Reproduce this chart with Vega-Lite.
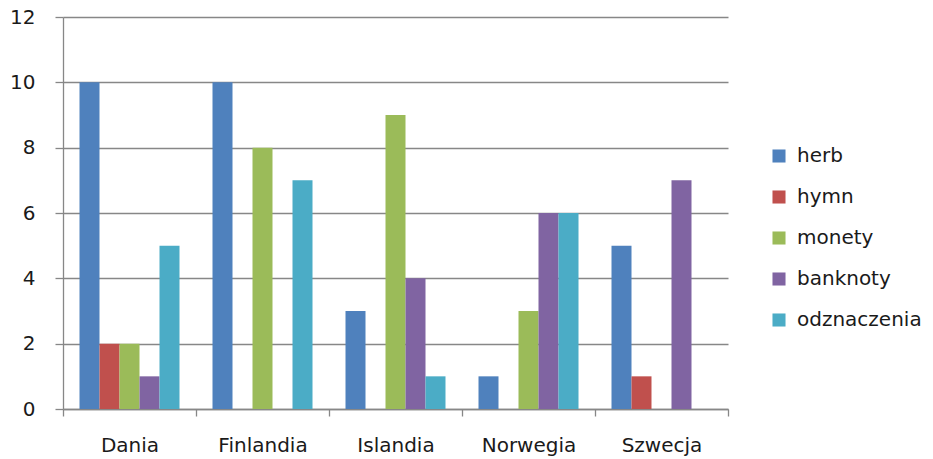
{
  "$schema": "https://vega.github.io/schema/vega-lite/v6.json",
  "width": 665,
  "height": 392,
  "autosize": "none",
  "padding": {"left": 63, "top": 17, "right": 205, "bottom": 50},
  "background": "white",
  "data": {"values": [
    {"kraj": "Dania", "kategoria": "herb", "wartosc": 10},
    {"kraj": "Dania", "kategoria": "hymn", "wartosc": 2},
    {"kraj": "Dania", "kategoria": "monety", "wartosc": 2},
    {"kraj": "Dania", "kategoria": "banknoty", "wartosc": 1},
    {"kraj": "Dania", "kategoria": "odznaczenia", "wartosc": 5},
    {"kraj": "Finlandia", "kategoria": "herb", "wartosc": 10},
    {"kraj": "Finlandia", "kategoria": "hymn", "wartosc": 0},
    {"kraj": "Finlandia", "kategoria": "monety", "wartosc": 8},
    {"kraj": "Finlandia", "kategoria": "banknoty", "wartosc": 0},
    {"kraj": "Finlandia", "kategoria": "odznaczenia", "wartosc": 7},
    {"kraj": "Islandia", "kategoria": "herb", "wartosc": 3},
    {"kraj": "Islandia", "kategoria": "hymn", "wartosc": 0},
    {"kraj": "Islandia", "kategoria": "monety", "wartosc": 9},
    {"kraj": "Islandia", "kategoria": "banknoty", "wartosc": 4},
    {"kraj": "Islandia", "kategoria": "odznaczenia", "wartosc": 1},
    {"kraj": "Norwegia", "kategoria": "herb", "wartosc": 1},
    {"kraj": "Norwegia", "kategoria": "hymn", "wartosc": 0},
    {"kraj": "Norwegia", "kategoria": "monety", "wartosc": 3},
    {"kraj": "Norwegia", "kategoria": "banknoty", "wartosc": 6},
    {"kraj": "Norwegia", "kategoria": "odznaczenia", "wartosc": 6},
    {"kraj": "Szwecja", "kategoria": "herb", "wartosc": 5},
    {"kraj": "Szwecja", "kategoria": "hymn", "wartosc": 1},
    {"kraj": "Szwecja", "kategoria": "monety", "wartosc": 0},
    {"kraj": "Szwecja", "kategoria": "banknoty", "wartosc": 7},
    {"kraj": "Szwecja", "kategoria": "odznaczenia", "wartosc": 0}
  ]},
  "config": {
    "view": {"stroke": null},
    "font": "DejaVu Sans",
    "axis": {"labelFont": "DejaVu Sans", "labelFontSize": 20, "labelColor": "#1a1a1a", "domainColor": "#878787", "tickColor": "#878787", "gridColor": "#878787", "domainWidth": 1.3, "tickWidth": 1.3, "gridWidth": 1.3}
  },
  "mark": {"type": "bar"},
  "encoding": {
    "x": {
      "field": "kraj", "type": "nominal", "sort": null,
      "scale": {"paddingInner": 0, "paddingOuter": 0},
      "axis": {"title": null, "labelAngle": 0, "labelPadding": 19, "tickBand": "extent", "tickSize": 7, "grid": false}
    },
    "xOffset": {
      "field": "kategoria", "type": "nominal",
      "sort": ["herb", "hymn", "monety", "banknoty", "odznaczenia"],
      "scale": {"paddingInner": 0, "paddingOuter": 0.825}
    },
    "y": {
      "field": "wartosc", "type": "quantitative",
      "scale": {"domain": [0, 12]},
      "axis": {"title": null, "values": [0, 2, 4, 6, 8, 10, 12], "tickSize": 8, "labelPadding": 20, "grid": true}
    },
    "color": {
      "field": "kategoria", "type": "nominal",
      "sort": ["herb", "hymn", "monety", "banknoty", "odznaczenia"],
      "scale": {"domain": ["herb", "hymn", "monety", "banknoty", "odznaczenia"], "range": ["#4F81BD", "#C0504D", "#9BBB59", "#8064A2", "#4BACC6"]},
      "legend": {
        "title": null, "orient": "none", "legendX": 706, "legendY": 129,
        "symbolType": "square", "symbolSize": 170, "symbolStrokeWidth": 0,
        "labelFontSize": 20, "labelFont": "DejaVu Sans", "labelColor": "#1a1a1a",
        "rowPadding": 21, "labelOffset": 8
      }
    }
  }
}
